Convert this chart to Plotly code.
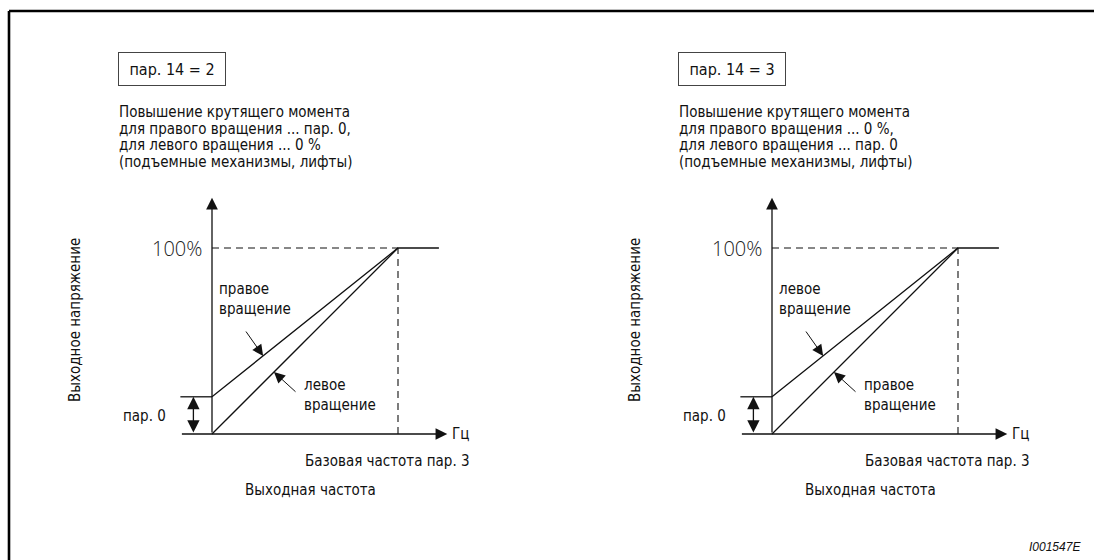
import numpy as np
import plotly.graph_objects as go

# ---------------- data ----------------
freq = [0.0, 1.0, 1.22]          # output frequency, relative to base frequency (пар. 3)
v_boost = [20, 100, 100]         # output voltage %, with torque boost = пар. 0
v_noboost = [0, 100, 100]        # output voltage %, torque boost 0 %
boost = 20                       # пар. 0 (% of voltage)
v_ref = 100                      # 100 % voltage
panel_titles = ["пар. 14 = 2", "пар. 14 = 3"]
panel_desc = [
    ["Повышение крутящего момента", "для правого вращения ... пар. 0,",
     "для левого вращения ... 0 %", "(подъемные механизмы, лифты)"],
    ["Повышение крутящего момента", "для правого вращения ... 0 %,",
     "для левого вращения ... пар. 0", "(подъемные механизмы, лифты)"],
]
upper_labels = ["правое<br>вращение", "левое<br>вращение"]
lower_labels = ["левое<br>вращение", "правое<br>вращение"]
y_title = "Выходное напряжение"
x_title = "Выходная частота"
base_label = "Базовая частота пар. 3"
unit_label = "Гц"
ref_label = "100%"
boost_label = "пар. 0"
doc_id = "I001547E"

# ---------------- layout constants ----------------
W, H = 1094, 560
origins = [212, 772]     # px of the voltage axis for each panel
oy = 434                 # px of the frequency axis
sx = 186                 # px per unit frequency
sy = 1.86                # px per % voltage
INK = "#111111"
FONT = "DejaVu Sans Condensed, Roboto, sans-serif"

fig = go.Figure()
annotations = []
layout_axes = {}

for i, ox in enumerate(origins):
    sfx = "" if i == 0 else str(i + 1)
    xa, ya = "x" + sfx, "y" + sfx
    layout_axes["xaxis" + sfx] = dict(range=[-ox / sx, (W - ox) / sx], domain=[0, 1],
                                      visible=False, anchor=ya, fixedrange=True)
    layout_axes["yaxis" + sfx] = dict(range=[-(H - oy) / sy, oy / sy], domain=[0, 1],
                                      visible=False, anchor=xa, fixedrange=True)
    line = dict(color=INK, width=1.3)
    dash = dict(color=INK, width=1.1, dash="7px,5px")
    # characteristic lines
    fig.add_trace(go.Scatter(x=freq, y=v_boost, mode="lines", line=line, xaxis=xa, yaxis=ya,
                             hoverinfo="skip", showlegend=False))
    fig.add_trace(go.Scatter(x=freq[:2], y=v_noboost[:2], mode="lines", line=line, xaxis=xa, yaxis=ya,
                             hoverinfo="skip", showlegend=False))
    # dashed reference lines
    fig.add_trace(go.Scatter(x=[0, freq[1]], y=[v_ref, v_ref], mode="lines", line=dash,
                             xaxis=xa, yaxis=ya, hoverinfo="skip", showlegend=False))
    fig.add_trace(go.Scatter(x=[freq[1], freq[1]], y=[0, v_ref], mode="lines", line=dash,
                             xaxis=xa, yaxis=ya, hoverinfo="skip", showlegend=False))
    # boost tick
    fig.add_trace(go.Scatter(x=[-0.17, 0], y=[boost, boost], mode="lines", line=line,
                             xaxis=xa, yaxis=ya, hoverinfo="skip", showlegend=False))

    arr = dict(xref=xa, yref=ya, axref=xa, ayref=ya, text="", showarrow=True,
               arrowcolor=INK, standoff=0, startstandoff=0)
    # axes with arrowheads
    annotations.append(dict(arr, x=1.265, y=0, ax=-0.17, ay=0, arrowhead=2, arrowwidth=1.3, arrowsize=1.8))
    annotations.append(dict(arr, x=0, y=127, ax=0, ay=0, arrowhead=2, arrowwidth=1.3, arrowsize=1.8))
    # double arrow for boost
    annotations.append(dict(arr, x=-0.10, y=boost, ax=-0.10, ay=0.0, arrowhead=2, startarrowhead=2,
                            arrowside="end+start", arrowwidth=1.3, arrowsize=1.9, startarrowsize=1.9))
    # pointer arrows
    hx_u = 0.275
    hy_u = float(np.interp(hx_u, freq, v_boost))
    annotations.append(dict(arr, x=hx_u, y=hy_u, ax=0.177, ay=55.9, arrowhead=2, arrowwidth=1.0, arrowsize=2.2))
    hx_l = 0.333
    hy_l = float(np.interp(hx_l, freq, v_noboost))
    annotations.append(dict(arr, x=hx_l, y=hy_l, ax=0.457, ay=22.0, arrowhead=2, arrowwidth=1.0, arrowsize=2.2))

    txt = dict(xref=xa, yref=ya, showarrow=False, font=dict(family=FONT, size=15, color=INK))
    annotations.append(dict(txt, x=0.027, y=72.6, text=upper_labels[i], xanchor="left", yanchor="middle", align="left"))
    annotations.append(dict(txt, x=0.484, y=21.0, text=lower_labels[i], xanchor="left", yanchor="middle", align="left"))
    annotations.append(dict(txt, x=-0.045, y=v_ref, text=ref_label, xanchor="right", yanchor="middle",
                            font=dict(family="Open Sans, sans-serif", size=20, color="#222", weight=300)))
    annotations.append(dict(txt, x=-0.235, y=9.7, text=boost_label, xanchor="right", yanchor="middle"))
    annotations.append(dict(txt, x=1.28, y=0, text=unit_label, xanchor="left", yanchor="middle"))
    annotations.append(dict(txt, x=1.40, y=-14.5, text=base_label, xanchor="right", yanchor="middle"))
    annotations.append(dict(txt, x=0.53, y=-30.1, text=x_title, xanchor="center", yanchor="middle"))
    annotations.append(dict(txt, x=-0.737, y=61.3, text=y_title, textangle=-90, xanchor="center", yanchor="middle"))
    # title box
    annotations.append(dict(txt, x=-0.215, y=196.5, text=panel_titles[i], xanchor="center", yanchor="middle",
                            bordercolor="#444", borderwidth=1, borderpad=4, width=98, height=24,
                            bgcolor="white", font=dict(family=FONT, size=16, color=INK)))
    # description lines
    for k, ln in enumerate(panel_desc[i]):
        annotations.append(dict(txt, x=-0.513, y=(oy - (112 + 16.7 * k)) / sy, text=ln,
                                xanchor="left", yanchor="middle"))

annotations.append(dict(xref="paper", yref="paper", x=1083 / W, y=1 - 547 / H, text=doc_id, showarrow=False,
                        xanchor="right", yanchor="middle",
                        font=dict(family="Liberation Sans, Arial, sans-serif", size=12, color=INK, style="italic")))

# outer frame: only top and left edges are inside the picture
shapes = [dict(type="line", xref="paper", yref="paper", x0=9 / W, y0=1 - 11 / H, x1=1.0, y1=1 - 11 / H,
               line=dict(color="black", width=2.6)),
          dict(type="line", xref="paper", yref="paper", x0=9 / W, y0=1 - 11 / H, x1=9 / W, y1=0.0,
               line=dict(color="black", width=2.6))]

fig.update_layout(width=W, height=H, autosize=False, margin=dict(l=0, r=0, t=0, b=0),
                  paper_bgcolor="white", plot_bgcolor="rgba(0,0,0,0)", annotations=annotations, shapes=shapes,
                  hovermode=False, **layout_axes)
fig.write_html("out.html", config={"displayModeBar": False, "staticPlot": True},
               post_script="document.body.style.margin='0';document.body.style.overflow='hidden';")
